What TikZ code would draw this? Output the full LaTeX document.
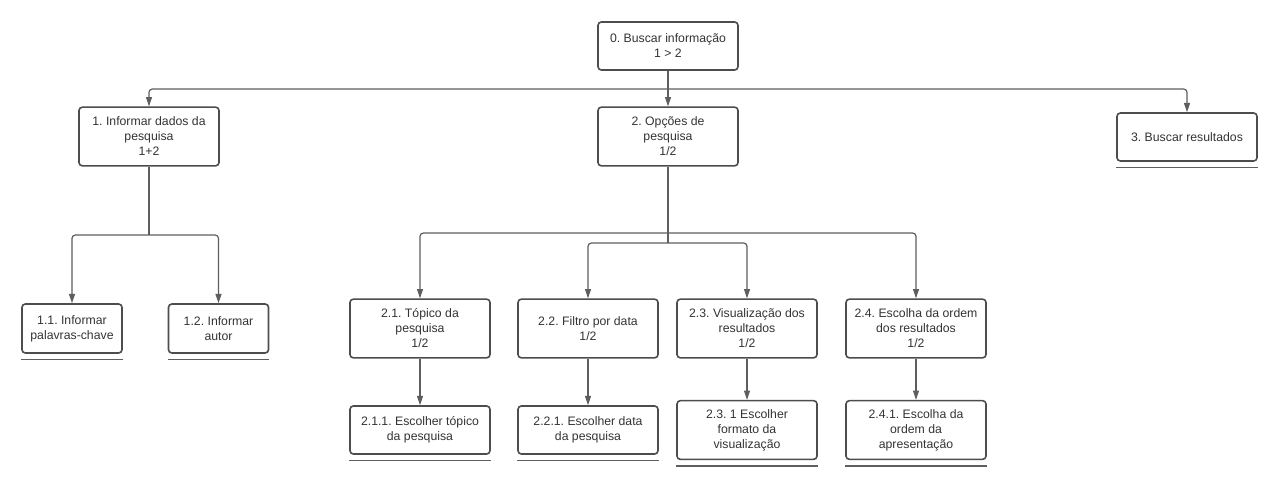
\documentclass[tikz,border=0pt]{standalone}
\usepackage{fontspec}
\setmainfont{Liberation Sans}
\usetikzlibrary{arrows.meta}
\definecolor{boxgray}{HTML}{4D4D4D}
\definecolor{linegray}{HTML}{5E5E5E}
\frenchspacing

\begin{document}
\begin{tikzpicture}[x=0.75pt, y=-0.75pt,
    box/.style={draw=boxgray, line width=1.2pt, rounded corners=2.5pt,
          align=center, inner sep=0pt, text=black!80,
          font=\fontsize{9.2pt}{11.25pt}\selectfont},
    wide/.style={box, minimum width=105pt, minimum height=36pt},
    tall/.style={box, minimum width=105pt, minimum height=44pt},
    small/.style={box, minimum width=75pt, minimum height=36.75pt},
    link/.style={draw=linegray, line width=0.9pt, rounded corners=2.5pt},
    conn/.style={link, -{Triangle[length=7pt,width=4.5pt]}},
    uline/.style={draw=linegray, line width=1pt}]
    \useasboundingbox (0,0) rectangle (1280,487);

    % top level
    \node[wide] (root) at (668,46) {0. Buscar informação\\1 > 2};
    \node[tall] (b1) at (149,136.5) {1. Informar dados da\\pesquisa\\1+2};
    \node[tall] (b2) at (668,136.5) {2. Opções de\\pesquisa\\1/2};
    \node[wide] (b3) at (1187,137) {3. Buscar resultados};

    % branch 1
    \node[small] (n11) at (72,328.5) {1.1. Informar\\palavras-chave};
    \node[small] (n12) at (218.5,328.5) {1.2. Informar\\autor};

    % branch 2
    \node[tall] (n21) at (420,328.5) {2.1. Tópico da\\pesquisa\\1/2};
    \node[tall] (n22) at (588,328.5) {2.2. Filtro por data\\1/2};
    \node[tall] (n23) at (747,328.5) {2.3. Visualização dos\\resultados\\1/2};
    \node[tall] (n24) at (916,328.5) {2.4. Escolha da ordem\\dos resultados\\1/2};

    \node[wide] (n211) at (420,430) {2.1.1. Escolher tópico\\da pesquisa};
    \node[wide] (n221) at (588,430) {2.2.1. Escolher data\\da pesquisa};
    \node[tall] (n231) at (747,430) {2.3. 1 Escolher\\formato da\\visualização};
    \node[tall] (n241) at (916,430) {2.4.1. Escolha da\\ordem da\\apresentação};

    % connectors
    \coordinate (j0) at (668,89);
    \draw[conn] (root.south) -- (b2.north);
    \draw[conn] (j0) -| (b1.north);
    \draw[conn] (j0) -| (b3.north);

    \coordinate (j1) at (149,235);
    \draw[link] (b1.south) -- (j1);
    \draw[conn] (j1) -| (n11.north);
    \draw[conn] (j1) -| (n12.north);

    \coordinate (j2) at (668,233);
    \coordinate (j2b) at (668,243);
    \draw[link] (b2.south) -- (j2b);
    \draw[conn] (j2) -| (n21.north);
    \draw[conn] (j2) -| (n24.north);
    \draw[conn] (j2b) -| (n22.north);
    \draw[conn] (j2b) -| (n23.north);

    \foreach \a/\b in {n21/n211, n22/n221, n23/n231, n24/n241}
        \draw[conn] (\a.south) -- (\b.north);

    % underlines of the leaves
    \foreach \n in {b3, n11, n12, n211, n221, n231, n241}
        \draw[uline] ([yshift=-4.5pt]\n.south west) -- ([yshift=-4.5pt]\n.south east);
\end{tikzpicture}
\end{document}
